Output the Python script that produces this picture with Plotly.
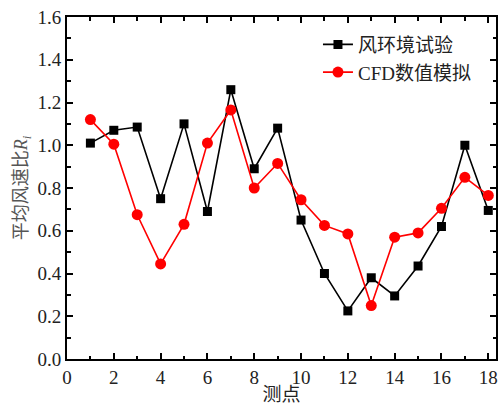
import plotly.graph_objects as go

# measuring points
points = list(range(1, 19))

# mean wind speed ratio R_i — wind environment test
test_ratio = [1.01, 1.07, 1.085, 0.75, 1.10, 0.69, 1.26, 0.89, 1.08,
              0.65, 0.40, 0.225, 0.38, 0.295, 0.435, 0.62, 1.00, 0.695]

# mean wind speed ratio R_i — CFD simulation
cfd_ratio = [1.12, 1.005, 0.675, 0.445, 0.63, 1.01, 1.165, 0.80, 0.915,
             0.745, 0.625, 0.585, 0.25, 0.57, 0.59, 0.705, 0.85, 0.765]

x_ticks = [0, 2, 4, 6, 8, 10, 12, 14, 16, 18]
y_ticks = [0.0, 0.2, 0.4, 0.6, 0.8, 1.0, 1.2, 1.4, 1.6]

serif = "Liberation Serif, Times New Roman, Noto Sans CJK SC, serif"

fig = go.Figure()
fig.add_trace(go.Scatter(
    x=points, y=test_ratio, mode="lines+markers", name="风环境试验",
    line=dict(color="black", width=1.6),
    marker=dict(symbol="square", size=9, color="black"),
))
fig.add_trace(go.Scatter(
    x=points, y=cfd_ratio, mode="lines+markers", name="CFD数值模拟",
    line=dict(color="#ff0000", width=1.6),
    marker=dict(symbol="circle", size=11, color="#ff0000"),
))

axis_common = dict(
    showline=True, linecolor="black", linewidth=2, mirror="allticks",
    ticks="inside", ticklen=6, tickwidth=1.5, tickcolor="black",
    showgrid=False, zeroline=False,
    tickfont=dict(family=serif, size=19, color="#222"),
)

fig.update_xaxes(
    range=[0, 18.33], tickvals=x_ticks, ticktext=[str(v) for v in x_ticks],
    minor=dict(ticks="inside", dtick=1, tick0=0, ticklen=3.5, tickwidth=1.5,
               tickcolor="black", showgrid=False),
    title=dict(text="测点", font=dict(family=serif, size=19, color="#222"),
               standoff=1),
    **axis_common,
)
fig.update_yaxes(
    range=[0, 1.6], tickvals=y_ticks, ticktext=[f"{v:.1f}" for v in y_ticks],
    minor=dict(ticks="inside", dtick=0.1, tick0=0, ticklen=3.5, tickwidth=1.5,
               tickcolor="black", showgrid=False),
    title=dict(text="平均风速比<i>R</i><sub><i>i</i></sub>",
               font=dict(family=serif, size=18, color="#555"), standoff=5),
    **axis_common,
)

fig.update_layout(
    width=501, height=405,
    margin=dict(l=67, r=3, t=17, b=45),
    paper_bgcolor="white", plot_bgcolor="white",
    showlegend=True,
    legend=dict(
        x=0.585, y=0.975, xanchor="left", yanchor="top",
        bgcolor="rgba(0,0,0,0)", borderwidth=0,
        font=dict(family=serif, size=19, color="#222"),
        itemwidth=30, tracegroupgap=0,
    ),
)

fig.write_html("out.html")
